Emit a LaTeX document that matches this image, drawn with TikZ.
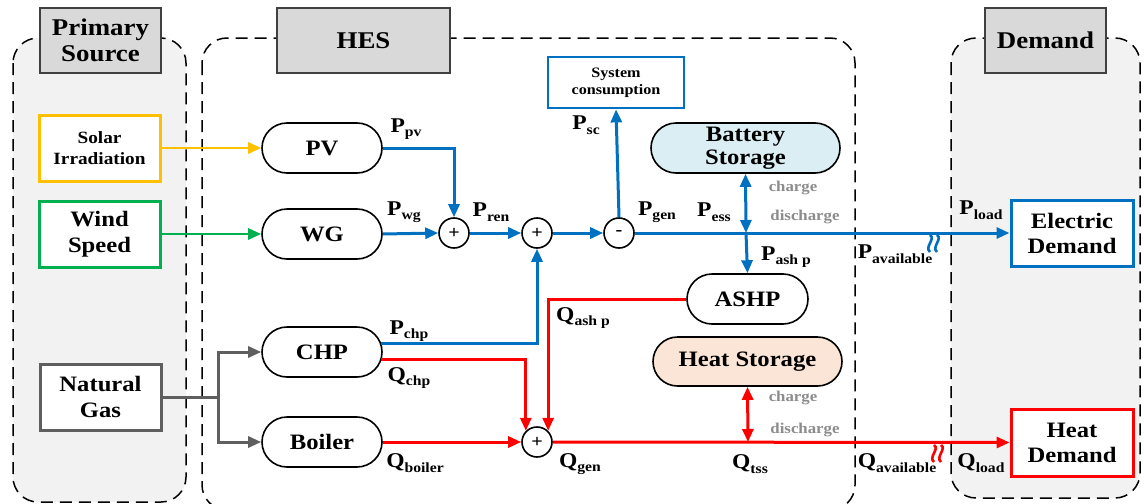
\documentclass[tikz,border=0pt]{standalone}
\usepackage{fontspec}
\setmainfont[FakeStretch=1.12]{Liberation Serif}
\usetikzlibrary{shapes.misc,arrows.meta,calc}
\definecolor{eblue}{HTML}{0070C0}
\definecolor{hred}{HTML}{FF0000}
\definecolor{wgreen}{HTML}{00B050}
\definecolor{syellow}{HTML}{FFC000}
\definecolor{ggray}{HTML}{5F5F5F}
\definecolor{panelgray}{HTML}{F2F2F2}
\definecolor{titlegray}{HTML}{D9D9D9}
\definecolor{battblue}{HTML}{DAEEF3}
\definecolor{heatpeach}{HTML}{FBE5D6}
\definecolor{lblgray}{HTML}{8C8C8C}
\newcommand\lbl[2]{#1\raisebox{-0.22em}{\fontsize{7}{7}\selectfont #2}}
\tikzset{
  panel/.style={draw=black, line width=0.75pt, dash pattern=on 6pt off 3.5pt, rounded corners=12.5pt},
  titlebox/.style={draw=black!75, fill=titlegray, line width=0.75pt, font=\fontsize{12}{13}\selectfont\bfseries, align=center, inner sep=0pt},
  srcbox/.style={line width=1.5pt, fill=white, align=center, inner sep=0pt, minimum width=60.5pt, minimum height=33pt},
  unit/.style={rounded rectangle, draw=black, line width=0.8pt, inner sep=0pt, minimum width=60pt, minimum height=25pt, font=\fontsize{11}{12}\selectfont\bfseries, align=center},
  sumc/.style={circle, draw=black, line width=0.8pt, fill=white, inner sep=0pt, minimum size=15pt, font=\fontsize{9}{10}\selectfont\bfseries},
  dembox/.style={line width=1.5pt, fill=white, align=center, inner sep=0pt, minimum width=61pt, minimum height=33pt, font=\fontsize{11}{12.5}\selectfont\bfseries},
  tip/.style={-{Triangle[length=6.5pt,width=5.5pt]}},
  dtip/.style={{Triangle[length=6.5pt,width=5.5pt]}-{Triangle[length=6.5pt,width=5.5pt]}},
  bline/.style={draw=eblue, line width=1.5pt},
  rline/.style={draw=hred, line width=1.5pt},
  lab/.style={font=\fontsize{10.5}{11}\selectfont\bfseries, inner sep=0pt},
  glab/.style={font=\fontsize{7.5}{8}\selectfont\bfseries, text=lblgray, inner sep=0pt},
  squig/.style={line width=1.3pt}
}
\begin{document}
\begin{tikzpicture}[x=0.5pt,y=-0.5pt]
\useasboundingbox (0,0) rectangle (1144,503);
% panels
\path[panel, fill=panelgray] (13,38) rectangle (186,502);
\path[panel, fill=white] (202,38) rectangle (855,510);
\path[panel, fill=panelgray] (951,38) rectangle (1140,498);
% titles
\node[titlebox, minimum width=60.5pt, minimum height=32.5pt] (tps) at (100.5,40.5) {Primary\\Source};
\node[titlebox, minimum width=86.5pt, minimum height=32.5pt] (thes) at (363.5,40.5) {HES};
\node[titlebox, minimum width=60.5pt, minimum height=32.5pt] (tdem) at (1045.5,40.5) {Demand};
% sources
\node[srcbox, draw=syellow, font=\fontsize{8.6}{10.5}\selectfont\bfseries] (solar) at (99.5,148) {Solar\\Irradiation};
\node[srcbox, draw=wgreen, font=\fontsize{11}{13}\selectfont\bfseries] (wind) at (99.5,234) {Wind\\Speed};
\node[srcbox, draw=ggray, font=\fontsize{11}{13}\selectfont\bfseries] (gas) at (100.5,397) {Natural\\Gas};
% units
\node[unit] (pv) at (322,148) {PV};
\node[unit] (wg) at (322,234) {WG};
\node[unit] (chp) at (322,352) {CHP};
\node[unit] (boiler) at (322,442) {Boiler};
\node[unit, minimum width=60.5pt] (ashp) at (747.5,299) {ASHP};
\node[unit, minimum width=94.5pt, fill=battblue, font=\fontsize{11}{11.5}\selectfont\bfseries] (batt) at (745.5,148) {Battery\\Storage};
\node[unit, minimum width=94.5pt, minimum height=24.5pt, fill=heatpeach] (hs) at (747.5,361.5) {Heat Storage};
% sums
\node[sumc] (s1) at (454,233) {+};
\node[sumc] (s2) at (537,233) {+};
\node[sumc] (s3) at (619,233) {-};
\node[sumc] (s4) at (537,442) {+};
% system consumption & demands
\node[draw=eblue, line width=1.4pt, fill=white, minimum width=68pt, minimum height=25.5pt, inner sep=0pt, align=center, font=\fontsize{7.2}{8.5}\selectfont\bfseries] (sc) at (616,82.5) {System\\consumption};
\node[dembox, draw=eblue] (elec) at (1072,233) {Electric\\Demand};
\node[dembox, draw=hred, minimum height=33.5pt] (heat) at (1072,442.5) {Heat\\Demand};
\coordinate (gj) at (218,397);
\coordinate (bj) at (746,233);
\coordinate (hj) at (748,442);
% source arrows
\draw[tip, draw=syellow, line width=1.4pt] (solar.east) -- (pv.west);
\draw[tip, draw=wgreen, line width=1.4pt] (wind.east) -- (wg.west);
\draw[draw=ggray, line width=1.5pt] (gas.east) -- (gj);
\draw[tip, draw=ggray, line width=1.5pt] (gj) |- (chp.west);
\draw[tip, draw=ggray, line width=1.5pt] (gj) |- (boiler.west);
% electric
\draw[bline, tip] (pv.east) -| (s1.north);
\draw[bline, tip] (wg.east) -- (s1.west);
\draw[bline, tip] (s1.east) -- (s2.west);
\draw[bline, tip] (s2.east) -- (s3.west);
\draw[bline, tip] (s3.north) -- (sc.south);
\draw[bline, tip] (s3.east) -- (elec.west);
\draw[bline, dtip] (batt.south) -- (bj);
\draw[bline, tip] (bj) -- (ashp.north);
\draw[bline, tip] ($(chp.east)+(-1.5,-9)$) -| (s2.south);
% heat
\draw[rline, tip] ($(chp.east)+(-1.5,7)$) -| (s4.north west);
\draw[rline, tip] (ashp.west) -| (s4.north east);
\draw[rline, tip] (boiler.east) -- (s4.west);
\draw[rline, tip] (s4.east) -- (heat.west);
\draw[rline, dtip] (hs.south) -- (hj);
% squiggles
\foreach \xx in {930,937}
  \draw[eblue, squig] (\xx,235) .. controls (\xx+6,239) and (\xx-6,247) .. (\xx,252);
\foreach \xx in {934,941}
  \draw[hred, squig] (\xx,445) .. controls (\xx+6,449) and (\xx-6,457) .. (\xx,462);
% labels
\node[lab] (lpv) at (406,129) {\lbl{P}{pv}};
\node[lab] (lwg) at (404,212) {\lbl{P}{wg}};
\node[lab] (lren) at (491,212) {\lbl{P}{ren}};
\node[lab] (lsc) at (586,125) {\lbl{P}{sc}};
\node[lab] (lgen) at (657,212) {\lbl{P}{gen}};
\node[lab] (less) at (714,212) {\lbl{P}{ess}};
\node[glab] (c1) at (793,188) {charge};
\node[glab] (d1) at (805,217) {discharge};
\node[lab] (lashp) at (786,257) {\lbl{P}{ash p}};
\node[lab] (lavp) at (895,254) {\lbl{P}{available}};
\node[lab] (lload) at (981,210) {\lbl{P}{load}};
\node[lab] (lqashp) at (583,318) {\lbl{Q}{ash p}};
\node[lab] (lpchp) at (409,331) {\lbl{P}{chp}};
\node[lab] (lqchp) at (409,378) {\lbl{Q}{chp}};
\node[lab] (lqboil) at (415,463) {\lbl{Q}{boiler}};
\node[lab] (lqgen) at (580,464) {\lbl{Q}{gen}};
\node[lab] (lqtss) at (750,464) {\lbl{Q}{tss}};
\node[glab] (c2) at (793,398) {charge};
\node[glab] (d2) at (805,430) {discharge};
\node[lab] (lqav) at (897,463) {\lbl{Q}{available}};
\node[lab] (lqload) at (981,463) {\lbl{Q}{load}};
\end{tikzpicture}
\end{document}
